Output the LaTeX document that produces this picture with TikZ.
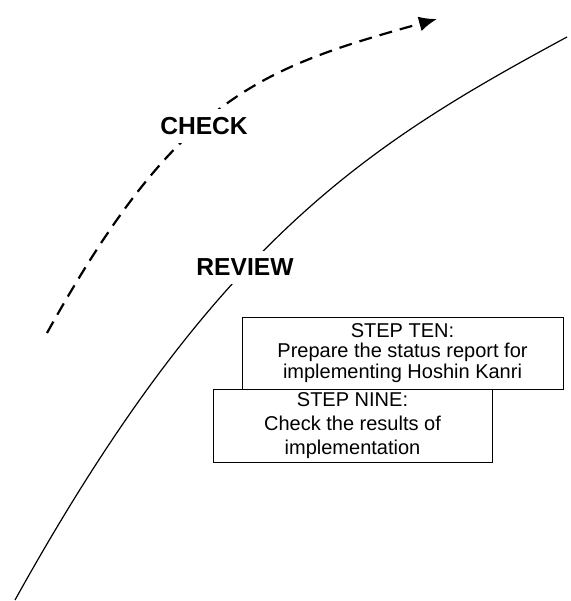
\documentclass[tikz,border=0pt]{standalone}
\usepackage{fontspec}
\setmainfont{Liberation Sans}
\usetikzlibrary{arrows.meta}
\begin{document}
\begin{tikzpicture}[x=1pt,y=-1pt,
  stepbox/.style={draw, line width=0.9pt, fill=white, align=center, inner sep=0pt},
  phase/.style={fill=white, inner xsep=3pt, inner ysep=8pt, font=\bfseries\fontsize{24.6}{26}\selectfont}]
\useasboundingbox (0,0) rectangle (570,601);
% solid curve
\coordinate (s0) at (15,600);
\coordinate (s1) at (567,37);
\draw[line width=1.2pt] (s0) .. controls (215,240) and (367,145) .. (s1);
% dashed arrow
\coordinate (d0) at (47,333);
\coordinate (d1) at (437,19);
\draw[line width=2.2pt, dash pattern=on 13pt off 8pt, -{Latex[length=18pt,width=15pt]}] (d0) .. controls (177,99) and (257,69) .. (d1);
\node[phase] (check) at (204,126) {CHECK};
\node[phase] (review) at (245,267.5) {REVIEW};
\node[stepbox, minimum width=321pt, minimum height=72pt, font=\fontsize{20}{20.5}\selectfont] (ten) at (402.5,353) {STEP TEN:\\Prepare the status report for\\implementing Hoshin Kanri};
\node[stepbox, minimum width=279pt, minimum height=73pt, font=\fontsize{20}{24}\selectfont] (nine) at (352.5,425.5) {STEP NINE:\\Check the results of\\implementation};
\end{tikzpicture}
\end{document}
